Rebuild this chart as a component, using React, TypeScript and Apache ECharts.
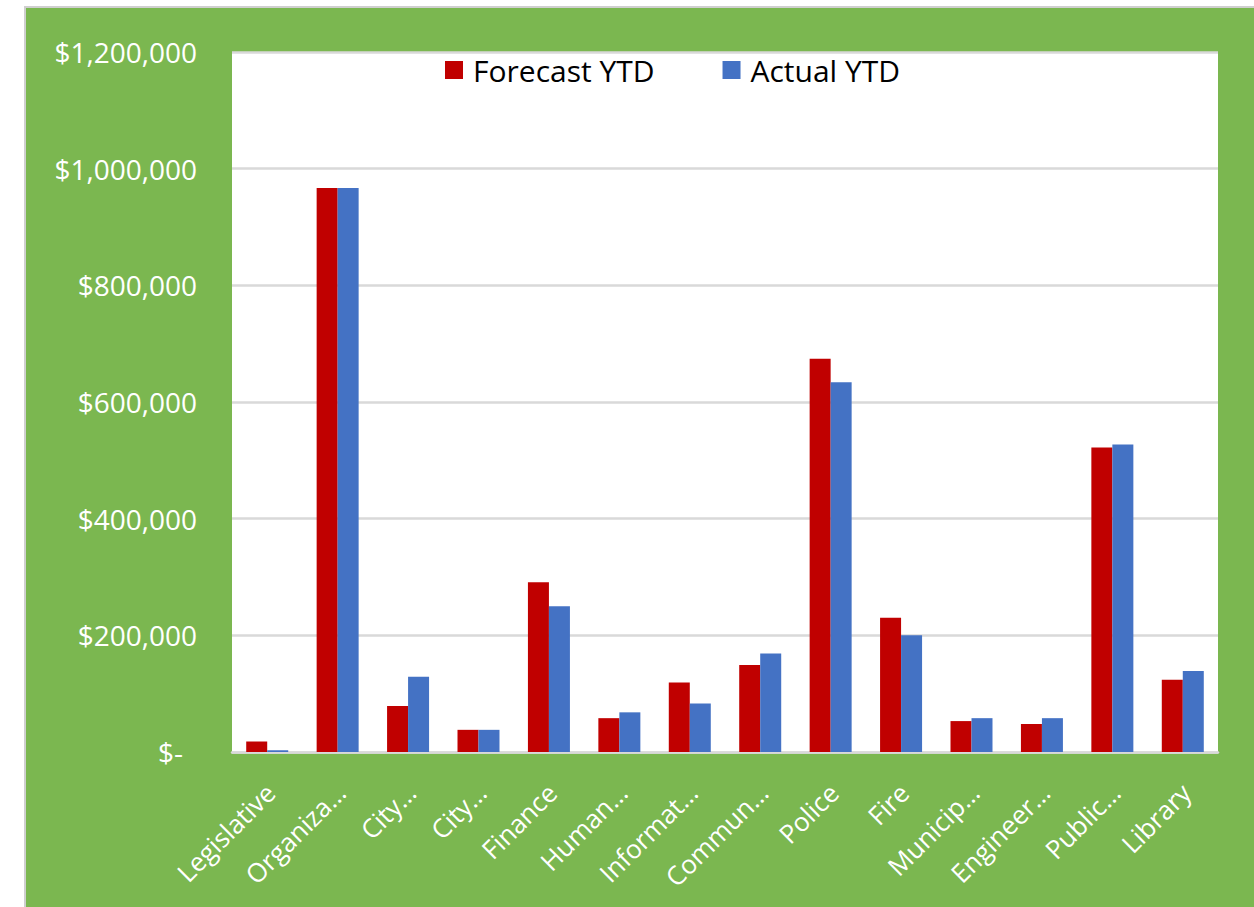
import React, { useEffect, useRef } from "react";
import * as echarts from "echarts";

const categories = [
  "Legislative",
  "Organiza…",
  "City…",
  "City…",
  "Finance",
  "Human…",
  "Informat…",
  "Commun…",
  "Police",
  "Fire",
  "Municip…",
  "Engineer…",
  "Public…",
  "Library",
];
const forecastYTD = [18000, 967000, 79000, 38000, 291000, 58000, 119000, 149000, 674000, 230000, 53000, 48000, 522000, 124000];
const actualYTD = [3000, 967000, 129000, 38000, 250000, 68000, 83000, 169000, 634000, 200000, 58000, 58000, 527000, 139000];
const seriesNames = ["Forecast YTD", "Actual YTD"];
const yTicks = { min: 0, max: 1200000, interval: 200000 };

const FONT = "'Open Sans', sans-serif";

export default function App() {
  const ref = useRef<HTMLDivElement>(null);
  useEffect(() => {
    if (!ref.current) return;
    const chart = echarts.init(ref.current, undefined, { renderer: "svg" });
    chart.setOption({
      animation: false,
      backgroundColor: "transparent",
      textStyle: { fontFamily: FONT },
      legend: {
        data: seriesNames,
        left: 445,
        top: 55,
        padding: 0,
        icon: "rect",
        itemWidth: 18,
        itemHeight: 18,
        itemGap: 68,
        selectedMode: false,
        textStyle: { color: "#000000", fontSize: 30, fontFamily: FONT, padding: [0, 0, 0, 5] },
      },
      grid: [
        {
          left: 232,
          top: 52,
          width: 986,
          height: 700,
          show: true,
          backgroundColor: "#ffffff",
          borderWidth: 0,
          containLabel: false,
        },
        {
          left: 235,
          top: 52,
          width: 986,
          height: 700,
          show: false,
          containLabel: false,
        },
      ],
      xAxis: [
        {
          type: "category",
          gridIndex: 0,
          data: categories,
          axisLine: { show: true, lineStyle: { color: "#d9d9d9", width: 2.5 } },
          axisTick: { show: false },
          axisLabel: { show: false },
        },
        {
          type: "category",
          gridIndex: 1,
          data: categories,
          axisLine: { show: false },
          axisTick: { show: false },
          axisLabel: {
            interval: 0,
            rotate: 45,
            margin: 36,
            color: "#ffffff",
            fontSize: 26,
            fontFamily: FONT,
          },
        },
      ],
      yAxis: [
        {
          type: "value",
          gridIndex: 0,
          min: yTicks.min,
          max: yTicks.max,
          interval: yTicks.interval,
          axisLine: { show: false },
          axisTick: { show: false },
          splitLine: { show: true, lineStyle: { color: "#d9d9d9", width: 2.5 } },
          axisLabel: {
            margin: 35,
            color: "#ffffff",
            fontSize: 28,
            fontFamily: FONT,
            formatter: (v: number) =>
              v === 0 ? "{z|$-}" : "$" + v.toLocaleString("en-US"),
            rich: {
              z: { color: "#ffffff", fontSize: 28, fontFamily: FONT, padding: [0, 14, 0, 0] },
            },
          },
        },
        {
          type: "value",
          gridIndex: 1,
          min: yTicks.min,
          max: yTicks.max,
          interval: yTicks.interval,
          show: false,
        },
      ],
      series: [
        {
          name: seriesNames[0],
          type: "bar",
          xAxisIndex: 0,
          yAxisIndex: 0,
          data: forecastYTD,
          barWidth: 21,
          barGap: "0%",
          itemStyle: { color: "#c00000" },
        },
        {
          name: seriesNames[1],
          type: "bar",
          xAxisIndex: 0,
          yAxisIndex: 0,
          data: actualYTD,
          barWidth: 21,
          barGap: "0%",
          itemStyle: { color: "#4472c4" },
        },
      ],
    });
    return () => chart.dispose();
  }, []);

  return (
    <div style={{ position: "fixed", left: 0, top: 0, width: 1254, height: 907, background: "#ffffff", overflow: "hidden" }}>
      <div
        style={{
          position: "absolute",
          left: 24,
          top: 6,
          width: 1240,
          height: 910,
          background: "#7bb750",
          border: "2px solid #cfcfcf",
          boxSizing: "border-box",
        }}
      />
      <div ref={ref} style={{ position: "absolute", left: 0, top: 0, width: 1254, height: 907 }} />
    </div>
  );
}
